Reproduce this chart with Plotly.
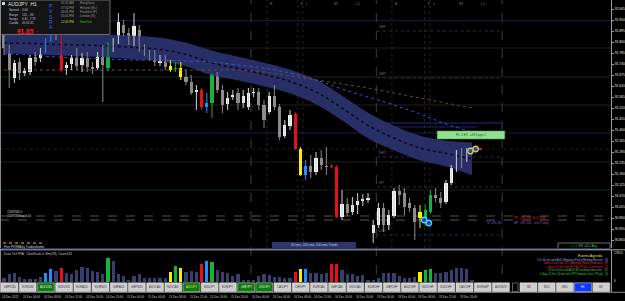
import plotly.graph_objects as go

W, H = 625, 301
FONT = "Liberation Sans, Arial, sans-serif"


def px(x):
    return x / W


def py(y):
    return 1 - y / H


# ---------------- data ----------------
time_labels = ["14 Dec 2022", "14 Dec 04:00", "14 Dec 08:00", "14 Dec 12:00", "14 Dec 16:00", "14 Dec 20:00",
               "15 Dec 00:00", "15 Dec 04:00", "15 Dec 08:00", "15 Dec 12:00", "15 Dec 16:00", "15 Dec 20:00",
               "16 Dec 00:00", "16 Dec 04:00", "16 Dec 08:00", "16 Dec 12:00", "16 Dec 16:00", "16 Dec 20:00",
               "19 Dec 00:00", "19 Dec 04:00", "19 Dec 08:00", "19 Dec 12:00", "19 Dec 16:00"]

candle_type = list(
    "ggwgwwgwBB"
    "gRwwgwggwg"
    "Gwwggwgggg"
    "wgYGYggwRB"
    "Gggwwgwwwg"
    "gwggwwRYBg"
    "wggRRwgwww"
    "wwwgwwgggg"
    "YGGggwwwgwg")

opens = [91.900, 91.810, 91.660, 91.740, 91.685, 91.690, 91.765, 91.760, 91.795, 91.850,
         91.875, 91.875, 91.710, 91.730, 91.760, 91.725, 91.760, 91.715, 91.710, 91.765,
         91.710, 91.810, 91.850, 91.925, 91.885, 91.840, 91.900, 91.810, 91.785, 91.765,
         91.735, 91.740, 91.720, 91.705, 91.710, 91.665, 91.640, 91.590, 91.600, 91.515,
         91.535, 91.675, 91.600, 91.530, 91.565, 91.585, 91.535, 91.515, 91.585, 91.590,
         91.525, 91.490, 91.570, 91.515, 91.370, 91.420, 91.480, 91.305, 91.175, 91.220,
         91.190, 91.260, 91.220, 91.220, 91.215, 90.965, 91.030, 90.990, 91.025, 91.045,
         91.050, 90.885, 90.925, 91.010, 90.925, 90.970, 91.095, 91.085, 91.035, 91.010,
         90.990, 90.940, 90.990, 91.075, 91.060, 91.040, 91.135, 91.210, 91.275, 91.260,
         91.300]
closes = [91.810, 91.700, 91.735, 91.685, 91.695, 91.760, 91.740, 91.795, 91.850, 91.875,
          91.860, 91.700, 91.725, 91.760, 91.720, 91.760, 91.715, 91.705, 91.775, 91.725,
          91.810, 91.845, 91.940, 91.885, 91.850, 91.920, 91.810, 91.785, 91.765, 91.740,
          91.745, 91.715, 91.700, 91.710, 91.665, 91.640, 91.585, 91.600, 91.515, 91.535,
          91.675, 91.600, 91.525, 91.560, 91.575, 91.535, 91.570, 91.585, 91.590, 91.525,
          91.450, 91.570, 91.515, 91.365, 91.425, 91.475, 91.305, 91.175, 91.220, 91.190,
          91.260, 91.225, 91.215, 91.215, 90.965, 91.030, 90.985, 91.025, 91.045, 91.055,
          91.060, 90.925, 91.010, 90.925, 90.975, 91.095, 91.075, 91.015, 91.010, 90.940,
          90.960, 91.000, 91.075, 91.060, 91.035, 91.135, 91.210, 91.275, 91.250, 91.290,
          91.290]
highs = [91.910, 91.825, 91.750, 91.760, 91.710, 91.775, 91.790, 91.810, 91.860, 91.900,
         91.890, 91.900, 91.740, 91.775, 91.810, 91.785, 91.790, 91.740, 91.790, 91.825,
         91.840, 91.860, 91.985, 91.950, 91.910, 91.985, 91.925, 91.830, 91.800, 91.800,
         91.775, 91.775, 91.750, 91.740, 91.740, 91.700, 91.675, 91.625, 91.610, 91.585,
         91.685, 91.690, 91.625, 91.590, 91.600, 91.610, 91.600, 91.610, 91.610, 91.610,
         91.550, 91.590, 91.625, 91.530, 91.450, 91.500, 91.490, 91.315, 91.250, 91.275,
         91.290, 91.300, 91.315, 91.230, 91.225, 91.100, 91.060, 91.065, 91.085, 91.080,
         91.085, 90.950, 91.035, 91.035, 91.000, 91.110, 91.125, 91.110, 91.060, 91.025,
         91.025, 91.025, 91.100, 91.110, 91.090, 91.150, 91.225, 91.300, 91.310, 91.310,
         91.315]
lows = [91.775, 91.610, 91.635, 91.650, 91.670, 91.675, 91.720, 91.740, 91.785, 91.840,
        91.850, 91.690, 91.675, 91.700, 91.700, 91.690, 91.690, 91.680, 91.700, 91.540,
        91.695, 91.790, 91.830, 91.870, 91.825, 91.820, 91.790, 91.770, 91.750, 91.720,
        91.720, 91.700, 91.690, 91.690, 91.650, 91.625, 91.575, 91.500, 91.500, 91.485,
        91.460, 91.585, 91.485, 91.500, 91.550, 91.500, 91.510, 91.500, 91.565, 91.500,
        91.410, 91.480, 91.500, 91.350, 91.360, 91.400, 91.300, 91.170, 91.150, 91.160,
        91.175, 91.200, 91.175, 91.210, 90.960, 90.950, 90.970, 90.975, 90.980, 91.020,
        91.035, 90.835, 90.910, 90.890, 90.900, 90.960, 91.025, 90.975, 90.990, 90.850,
        90.910, 90.920, 90.980, 91.040, 91.010, 91.030, 91.125, 91.190, 91.210, 91.240,
        91.275]

volume = [10, 20, 23, 13, 8, 8, 8, 13, 23, 33,
          28, 35, 23, 20, 30, 37, 35, 27, 25, 20,
          60, 52, 20, 15, 5, 15, 20, 10, 10, 10,
          10, 10, 25, 40, 35, 25, 27, 25, 45, 52,
          49, 30, 25, 23, 15, 20, 5, 2, 5, 15,
          20, 17, 13, 12, 10, 10, 25, 33, 33, 23,
          23, 20, 23, 45, 45, 30, 20, 20, 15, 17,
          5, 2, 10, 23, 23, 23, 15, 10, 10, 13,
          25, 30, 32, 23, 23, 25, 30, 35, 35, 33, 2]

band_idx = [0, 5, 10, 15, 20, 25, 30, 35, 40, 45, 50, 55, 60, 65, 70, 75, 80, 85, 90]
band_upper = [91.885, 91.885, 91.880, 91.880, 91.875, 91.870, 91.860, 91.835, 91.795, 91.765,
              91.735, 91.700, 91.650, 91.570, 91.485, 91.420, 91.370, 91.345, 91.335]
band_lower = [91.785, 91.780, 91.775, 91.770, 91.765, 91.755, 91.745, 91.720, 91.675, 91.650,
              91.620, 91.585, 91.530, 91.450, 91.360, 91.300, 91.250, 91.220, 91.175]
band_mid = [91.835, 91.833, 91.828, 91.825, 91.820, 91.813, 91.803, 91.778, 91.735, 91.708,
            91.678, 91.643, 91.590, 91.510, 91.423, 91.360, 91.310, 91.283, 91.255]
ema100 = [91.780, 91.775, 91.765, 91.760, 91.755, 91.750, 91.750, 91.745, 91.740, 91.725,
          91.710, 91.685, 91.650, 91.605, 91.565, 91.525, 91.480, 91.430, 91.390]
ema200 = [91.700, 91.700, 91.700, 91.700, 91.700, 91.700, 91.700, 91.700, 91.700, 91.700,
          91.690, 91.670, 91.650, 91.630, 91.610, 91.585, 91.560, 91.535, 91.510]

price_ticks = [92.005, 91.950, 91.895, 91.840, 91.785, 91.730, 91.675, 91.620, 91.565, 91.510,
               91.455, 91.400, 91.345, 91.290, 91.235, 91.180, 91.125, 91.070, 91.015, 90.960,
               90.905, 90.850]

level_prices = [91.9465, 91.8100, 91.6650, 91.5250, 91.3850, 91.2400, 91.1000]
pivot_prices = [91.895, 91.660, 91.265, 91.115, 90.875]
pivot_labels = ["DR3*", "DR2*", "DR1*", "DP*", "DS1*"]
order_prices = [90.970, 90.950]
order_labels = ["#2487068 sl", "#2487068 buy 1.00"]
day_breaks = [47.5, 71.6, 95.8]
session_pos = [50.6, 56.5, 57.5, 62.9, 67.1, 74.6, 80.9, 81.9, 86.9, 91.1]
session_txt = ["H", "F", "L", "NY", "LC", "H", "F", "L", "NY", "LC"]
mark_x = [89.7, 90.7]
mark_y = [91.295, 91.305]
entry_x = [80.8, 81.7]
entry_y = [90.950, 90.935]

pairs = ["GBPUSD", "EURUSD", "AUDUSD", "NZDUSD", "EURAUD", "EURNZD", "GBPAUD", "GBPNZD", "AUDCAD",
         "NZDCAD", "AUDJPY", "NZDJPY", "EURJPY", "GBPJPY", "USDJPY", "CADJPY", "CHFJPY", "EURCAD",
         "GBPCAD", "USDCAD", "EURCHF", "GBPCHF", "AUDCHF", "NZDCHF", "USDCHF", "CADCHF", "EURGBP", "AUDNZD"]
active_pairs = ["AUDUSD", "AUDJPY", "GBPJPY", "USDJPY"]
timeframes = ["M5", "M15", "M30", "H1", "H4"]

events = ["1 hr 24 min until AUD Monetary Policy Meeting Minutes   (3)",
          "Now 14 min until JPY Monetary Policy Statement   (3)",
          "Soon 24 min until JPY BOJ Press Conference   (3)",
          "14 hrs 6 min until AUD MI Leading Index m/m   (0)",
          "2 days 11 hrs 24 min until JPY National Core CPI y/y   (0)"]
event_colors = ["#7fb0ff", "#ff2a2a", "#e02020", "#38d038", "#38d038"]

# ---------------- figure ----------------
TYPE_COL = {"g": "#8c8c8c", "w": "#f2f2f2", "R": "#e8101e", "G": "#12b43c", "B": "#1f8fff", "Y": "#f5f000"}
WICK_COL = {"g": "#8c8c8c", "w": "#cfcfcf", "R": "#e8101e", "G": "#12b43c", "B": "#1f8fff", "Y": "#f5f000"}
VOL_DEFAULT = "#36406a"

fig = go.Figure()

# band
fig.add_trace(go.Scatter(x=band_idx, y=band_upper, mode="lines",
                         line=dict(color="#2e3472", width=0.6, shape="spline"), hoverinfo="skip"))
fig.add_trace(go.Scatter(x=band_idx, y=band_lower, mode="lines", fill="tonexty", fillcolor="#282e66",
                         line=dict(color="#2e3472", width=0.6, shape="spline"), hoverinfo="skip"))
fig.add_trace(go.Scatter(x=band_idx, y=band_mid, mode="lines",
                         line=dict(color="#0c0c22", width=1.6, dash="dot", shape="spline"), hoverinfo="skip"))
fig.add_trace(go.Scatter(x=band_idx, y=ema100, mode="lines",
                         line=dict(color="#3352d8", width=1, dash="dot", shape="spline"), hoverinfo="skip"))
fig.add_trace(go.Scatter(x=band_idx, y=ema200, mode="lines",
                         line=dict(color="#6a4e26", width=1, dash="dot", shape="spline"), hoverinfo="skip"))

# candles
n = len(opens)
idx = list(range(n))
for t, col in TYPE_COL.items():
    sel = [i for i in idx if candle_type[i] == t]
    if not sel:
        continue
    wx, wy = [], []
    for i in sel:
        wx += [i, i, None]
        wy += [lows[i], highs[i], None]
    fig.add_trace(go.Scatter(x=wx, y=wy, mode="lines", line=dict(color=WICK_COL[t], width=1),
                             hoverinfo="skip"))
    fig.add_trace(go.Bar(x=sel, base=[min(opens[i], closes[i]) for i in sel],
                         y=[max(abs(closes[i] - opens[i]), 0.005) for i in sel],
                         width=0.64, marker=dict(color=col, line=dict(width=0)), hoverinfo="skip"))

# order markers
fig.add_trace(go.Scatter(x=entry_x, y=entry_y, mode="markers",
                         marker=dict(size=5.5, color="#1a3ad0", line=dict(color="#40e0ff", width=1.3))))
fig.add_trace(go.Scatter(x=mark_x, y=mark_y, mode="markers",
                         marker=dict(size=5.5, color="#1840ff", line=dict(color="#e8d020", width=1.3))))
fig.add_trace(go.Scatter(x=[91.6], y=[91.305], mode="markers", marker=dict(size=2.5, color="#ff2020")))

# volume histogram
vcols = [TYPE_COL[t] if t in "RGBY" else VOL_DEFAULT for t in candle_type]
fig.add_trace(go.Bar(x=idx, y=volume, yaxis="y2", width=0.62,
                     marker=dict(color=vcols, line=dict(width=0)), hoverinfo="skip"))

shapes = []
ann = []


def rect(x0, y0, x1, y1, fill, line=None, lw=0, layer="above"):
    shapes.append(dict(type="rect", xref="paper", yref="paper", x0=px(x0), x1=px(x1), y0=py(y1), y1=py(y0),
                       fillcolor=fill, line=dict(color=line or fill, width=lw), layer=layer))


def pline(x0, y0, x1, y1, color, width=1, dash="solid", layer="above"):
    shapes.append(dict(type="line", xref="paper", yref="paper", x0=px(x0), x1=px(x1), y0=py(y0), y1=py(y1),
                       line=dict(color=color, width=width, dash=dash), layer=layer))


def txt(x, y, s, size=3, color="#c8c8c8", xa="left", ya="middle", bold=False, xref="paper", yref="paper"):
    if xref == "paper":
        x = px(x)
    if yref == "paper":
        y = py(y)
    ann.append(dict(x=x, y=y, xref=xref, yref=yref, text=("<b>%s</b>" % s) if bold else s, showarrow=False,
                    xanchor=xa, yanchor=ya, borderpad=0, font=dict(size=size, color=color, family=FONT)))


# horizontal levels
level_cols = ["#161c58", "#2a200f", "#122c12", "#242016", "#161c52", "#1e1e1e", "#122812"]
for p, c in zip(level_prices, level_cols):
    shapes.append(dict(type="line", xref="paper", yref="y", x0=0, x1=px(611), y0=p, y1=p,
                       line=dict(color=c, width=1), layer="below"))
shapes.append(dict(type="line", xref="paper", yref="y", x0=0, x1=px(611), y0=91.305, y1=91.305,
                   line=dict(color="#2a2a2a", width=0.8, dash="dot"), layer="below"))
for p, lab in zip(pivot_prices, pivot_labels):
    shapes.append(dict(type="line", xref="x", yref="y", x0=71.7, x1=95.8, y0=p, y1=p,
                       line=dict(color="#242c52", width=1, dash="dot"), layer="below"))
    txt(72.0, p + 0.006, lab, size=3, color="#7a7a7a", xref="x", yref="y", ya="bottom")
for p0, p1, c in [(91.435, 95.8, "#1f2c86"), (91.415, 90.9, "#1a2470")]:
    shapes.append(dict(type="line", xref="x", yref="y", x0=73.5, x1=p1, y0=p0, y1=p0,
                       line=dict(color=c, width=1), layer="below"))
for p, lab in zip(order_prices, order_labels):
    shapes.append(dict(type="line", xref="paper", yref="y", x0=0, x1=px(611), y0=p, y1=p,
                       line=dict(color="#6a6a6a", width=0.8, dash="dash"), layer="below"))
    txt(0.4, p + 0.004, lab, size=2.8, color="#d0d0d0", xref="x", yref="y", ya="bottom")

# vertical lines
for d in day_breaks:
    shapes.append(dict(type="line", xref="x", yref="paper", x0=d, x1=d, y0=py(292), y1=1,
                       line=dict(color="#4e4e4e", width=0.8, dash="dash"), layer="below"))
for s, lab in zip(session_pos, session_txt):
    if lab in ("H", "F", "L"):
        shapes.append(dict(type="line", xref="x", yref="paper", x0=s, x1=s, y0=py(248), y1=1,
                           line=dict(color="#2e2e2e", width=0.8, dash="dot"), layer="below"))
    txt(s + 0.4, 3.5, lab, size=3, color="#8a8a8a", xref="x")

# text near orders
txt(92.7, 90.935, "ST 091.201", size=3, color="#5a70d0", xref="x", yref="y")
txt(97.9, 90.960, "TP   231.292  $+3.1256", size=3, color="#e02828", xref="x", yref="y")
txt(97.9, 90.935, "EP   091.201   -0.07 Long", size=3, color="#a050d0", xref="x", yref="y")

# green P/L label
shapes.append(dict(type="rect", xref="x", yref="y", x0=83.3, x1=96.3, y0=91.355, y1=91.395,
                   fillcolor="#8fe08f", line=dict(color="#5aa05a", width=0.5), layer="above"))
txt(89.8, 91.375, "PL: 1 EX, +49.3 pips 1", size=3, color="#1a5a1a", xa="center", xref="x", yref="y")

# info panel
rect(0, 0, 110, 34.5, "#141414", "#6a6a6a", 1)
rect(2, 2, 5, 5, "#d8d8d8")
txt(7, 4.2, "AUDJPY  H1", size=5, color="#e0e0e0")
for yy, a, b in [(10.3, "Spread", "0.60"), (14.7, "Range", "105 ...96"), (19, "Swaps", "0.41 -7.73"),
                 (23.3, "Candle", "00:52:41")]:
    txt(8, yy, a, size=3, color="#c0c0d8")
    txt(21, yy, b, size=3, color="#c0c0d8")
txt(16, 31.5, "91.85", size=6.5, color="#ff1a1a", bold=True)
txt(36, 32.5, "r", size=3, color="#ff1a1a")
for yy, ch in zip([6.5, 11.5, 16.7, 21.8, 27.3], "PVSRA"):
    txt(50.5, yy, ch, size=5, color="#3a6ae0", xa="center")
times = ["01:05 AM", "07:05 PM", "06:05 PM", "05:05 PM", "12:05 PM"]
cities = ["HongKong", "Helsinki (EL)", "Frankfurt (F)", "London (G)", "NewYork"]
for k, yy in enumerate([3.4, 7.8, 12.1, 16.4, 21.7]):
    txt(60, yy, times[k], size=3, color="#d8d060" if k == 4 else "#9a9a9a")
    txt(79, yy, cities[k], size=3, color="#30c030" if k == 4 else "#9a9a9a")

# bottom of main window
pline(3, 243, 43, 243, "#d8c800", 1, "dot")
txt(3, 246.5, "Free PVSRA by Traderathome", size=3, color="#d8d8d8")
rect(272, 242, 356, 248, "#2d3470")
txt(314, 245, "50 ema, 100 ema, 200 ema Trends", size=3, color="#c8ccf0", xa="center")
rect(558, 243, 610, 249, "#000000", "#8a8a8a", 0.8)
txt(584, 246, "L: 1  EP +42.0 Avg", size=3, color="#2ed02e", xa="center")

# separators
pline(0.5, 0, 0.5, 292, "#8a8a8a", 1)
pline(0, 248.5, 611, 248.5, "#23306a", 1)
pline(0, 249.8, 625, 249.8, "#b0b0b0", 1)
pline(0, 292.3, 625, 292.3, "#8a8a8a", 1)

# sub window texts
txt(3, 253.5, "Draw Tick PVA;  ChartScale 4, Wm(Off), Count 631", size=3, color="#c8c8c8")
txt(613, 253, "17814", size=3, color="#e0e0e0")
txt(613, 281, "0", size=3, color="#e0e0e0")
txt(603, 256.3, "Events Agenda", size=3.6, color="#e0e040", xa="right")
for k, (e, c) in enumerate(zip(events, event_colors)):
    txt(609, 259.8 + 3.5 * k, e, size=2.7, color=c, xa="right")

# buttons
for k, p in enumerate(pairs):
    x0 = 1 + 18.2 * k
    on = p in active_pairs
    rect(x0, 282.8, x0 + 17, 291.6, "#0e7a12" if on else "#cfcfcf", "#eeeeee", 0.5)
    txt(x0 + 8.5, 287.2, p, size=2.8, color=("#f0e040" if p == "AUDJPY" else "#e8e8e8") if on else "#3a3a3a",
        xa="center")
rect(512.5, 283, 518, 291.5, "#000000", "#9a9a9a", 0.6)
for j, tf in enumerate(timeframes):
    x0 = 520 + 18.2 * j
    on = tf == "H1"
    rect(x0, 282.8, x0 + 17, 291.6, "#1038ff" if on else "#cfcfcf", "#eeeeee", 0.5)
    txt(x0 + 8.5, 287.2, tf, size=2.8, color="#ffffff" if on else "#3a3a3a", xa="center")

# time axis labels
for k, lab in enumerate(time_labels):
    txt(4 * k - 0.5, 297, lab, size=2.9, color="#c8c8c8", xref="x")

fig.update_layout(
    width=W, height=H, margin=dict(l=0, r=0, t=0, b=0),
    paper_bgcolor="#000000", plot_bgcolor="#000000",
    showlegend=False, barmode="overlay", bargap=0, hovermode=False,
    shapes=shapes, annotations=ann,
    xaxis=dict(domain=[0, px(611)], range=[-0.77, 116.73], anchor="y2", showticklabels=False,
               showgrid=False, zeroline=False, showline=False, fixedrange=True),
    yaxis=dict(domain=[py(248), 1], range=[90.81, 92.05], side="right", anchor="x",
               tickvals=price_ticks, ticktext=["%.3f" % v for v in price_ticks],
               tickfont=dict(size=3.3, color="#e8e8e8", family=FONT), ticks="outside", ticklen=2,
               tickcolor="#9a9a9a", showline=True, linecolor="#9a9a9a", linewidth=1,
               showgrid=False, zeroline=False, fixedrange=True),
    yaxis2=dict(domain=[py(292), py(250)], range=[-25.75, 79.25], side="right", anchor="x",
                showticklabels=False, showline=True, linecolor="#9a9a9a", linewidth=1,
                showgrid=False, zeroline=False, fixedrange=True),
)

fig.write_html("out.html")
